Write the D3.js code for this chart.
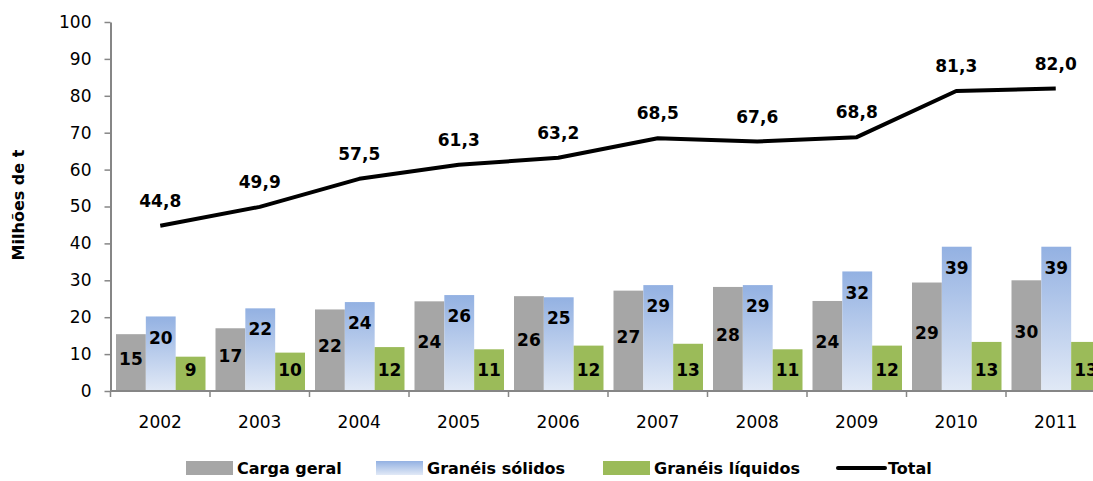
<!DOCTYPE html>
<html>
<head>
<meta charset="utf-8">
<script src="https://cdn.jsdelivr.net/npm/d3@7"></script>
<style>
  body { margin: 0; background: #fff; }
  svg text { font-family: "DejaVu Sans", sans-serif; }
</style>
</head>
<body>
<div id="chart"></div>
<script>
const years = ["2002", "2003", "2004", "2005", "2006", "2007", "2008", "2009", "2010", "2011"];
const cargaGeral = [15.4, 17.0, 22.1, 24.3, 25.7, 27.2, 28.2, 24.4, 29.4, 30.0];
const graneisSolidos = [20.2, 22.4, 24.1, 26.0, 25.4, 28.7, 28.7, 32.4, 39.1, 39.1];
const graneisLiquidos = [9.3, 10.4, 11.9, 11.3, 12.3, 12.8, 11.3, 12.3, 13.3, 13.3];
const total = [44.8, 49.9, 57.5, 61.3, 63.2, 68.5, 67.6, 68.8, 81.3, 82.0];
const yTicks = [0, 10, 20, 30, 40, 50, 60, 70, 80, 90, 100];

const width = 1093;
const height = 481;
const axisColor = "#868686";

const svg = d3.select("#chart")
    .append("svg")
    .attr("width", width)
    .attr("height", height);

// blue gradient for the "Granéis sólidos" bars
const grad = svg.append("defs").append("linearGradient")
    .attr("id", "blueGrad")
    .attr("x1", 0).attr("y1", 0).attr("x2", 0).attr("y2", 1);
grad.append("stop").attr("offset", "0%").attr("stop-color", "#93b1e2");
grad.append("stop").attr("offset", "100%").attr("stop-color", "#e1e9f6");

const x = d3.scaleBand()
    .domain(years)
    .range([110.5, 1105.5])
    .padding(0);

const y = d3.scaleLinear()
    .domain([0, 100])
    .range([391, 22]);

const series = [
    { key: "Carga geral", values: cargaGeral, fill: "#a6a6a6", label: "center" },
    { key: "Granéis sólidos", values: graneisSolidos, fill: "url(#blueGrad)", label: "end" },
    { key: "Granéis líquidos", values: graneisLiquidos, fill: "#9bbb59", label: "base" }
];

const inner = d3.scaleBand()
    .domain(series.map(s => s.key))
    .range([5.5, x.bandwidth() - 4.5])
    .padding(0);

// y axis
const yAxis = svg.append("g")
    .attr("transform", "translate(110.5,0)")
    .call(d3.axisLeft(y).tickValues(yTicks).tickSize(6).tickPadding(13).tickSizeOuter(0));
yAxis.select(".domain").attr("stroke", axisColor).attr("stroke-width", 2);
yAxis.selectAll(".tick line").attr("stroke", axisColor).attr("stroke-width", 1.5);
yAxis.selectAll(".tick text")
    .attr("font-size", "17px")
    .attr("fill", "#000")
    .style("font-family", "DejaVu Sans, sans-serif");

// bars
series.forEach(s => {
    const g = svg.append("g");
    g.selectAll("rect")
        .data(years)
        .join("rect")
        .attr("x", d => x(d) + inner(s.key))
        .attr("width", inner.bandwidth())
        .attr("y", (d, i) => y(s.values[i]))
        .attr("height", (d, i) => y(0) - y(s.values[i]))
        .attr("fill", s.fill);

    g.selectAll("text")
        .data(years)
        .join("text")
        .attr("x", d => x(d) + inner(s.key) + inner.bandwidth() / 2)
        .attr("y", (d, i) => {
            const v = s.values[i];
            if (s.label === "center") return (y(v) + y(0)) / 2 - 4;
            if (s.label === "end") return y(v) + 21;
            return y(0) - 21;
        })
        .attr("dy", "0.36em")
        .attr("text-anchor", "middle")
        .attr("font-size", "17px")
        .attr("font-weight", "bold")
        .attr("fill", "#000")
        .text((d, i) => Math.round(s.values[i]));
});

// x axis line and boundary ticks
svg.append("line")
    .attr("x1", 110.5).attr("x2", width)
    .attr("y1", y(0)).attr("y2", y(0))
    .attr("stroke", axisColor).attr("stroke-width", 2);

svg.selectAll(".xtick")
    .data(years)
    .join("line")
    .attr("class", "xtick")
    .attr("x1", d => x(d)).attr("x2", d => x(d))
    .attr("y1", y(0)).attr("y2", y(0) + 6)
    .attr("stroke", axisColor).attr("stroke-width", 1.5);

svg.selectAll(".xlabel")
    .data(years)
    .join("text")
    .attr("class", "xlabel")
    .attr("x", d => x(d) + x.bandwidth() / 2)
    .attr("y", 422)
    .attr("dy", "0.36em")
    .attr("text-anchor", "middle")
    .attr("font-size", "17px")
    .attr("fill", "#000")
    .text(d => d);

// total line
const line = d3.line()
    .x((d, i) => x(years[i]) + x.bandwidth() / 2)
    .y(d => y(d));

svg.append("path")
    .datum(total)
    .attr("fill", "none")
    .attr("stroke", "#000")
    .attr("stroke-width", 4)
    .attr("stroke-linejoin", "round")
    .attr("d", line);

svg.selectAll(".totlabel")
    .data(total)
    .join("text")
    .attr("class", "totlabel")
    .attr("x", (d, i) => x(years[i]) + x.bandwidth() / 2)
    .attr("y", d => y(d) - 25)
    .attr("dy", "0.36em")
    .attr("text-anchor", "middle")
    .attr("font-size", "17px")
    .attr("font-weight", "bold")
    .attr("fill", "#000")
    .text(d => d.toFixed(1).replace(".", ","));

// y axis title
svg.append("text")
    .attr("transform", "translate(18,205) rotate(-90)")
    .attr("dy", "0.36em")
    .attr("text-anchor", "middle")
    .attr("font-size", "16px")
    .attr("font-weight", "bold")
    .attr("fill", "#000")
    .text("Milhões de t");

// legend
const legendItems = [
    { key: "Carga geral", fill: "#a6a6a6", x: 186, type: "rect" },
    { key: "Granéis sólidos", fill: "url(#blueGrad)", x: 376, type: "rect" },
    { key: "Granéis líquidos", fill: "#9bbb59", x: 603, type: "rect" },
    { key: "Total", fill: "#000", x: 838, type: "line" }
];

const legend = svg.append("g");
legendItems.forEach(item => {
    if (item.type === "rect") {
        legend.append("rect")
            .attr("x", item.x).attr("y", 461)
            .attr("width", 47).attr("height", 14)
            .attr("fill", item.fill);
    } else {
        legend.append("line")
            .attr("x1", item.x).attr("x2", item.x + 47)
            .attr("y1", 468).attr("y2", 468)
            .attr("stroke", "#000").attr("stroke-width", 4)
            .attr("stroke-linecap", "round");
    }
    legend.append("text")
        .attr("x", item.x + (item.type === "rect" ? 51 : 50))
        .attr("y", 468)
        .attr("dy", "0.36em")
        .attr("font-size", "16px")
        .attr("font-weight", "bold")
        .attr("fill", "#000")
        .text(item.key);
});
</script>
</body>
</html>
